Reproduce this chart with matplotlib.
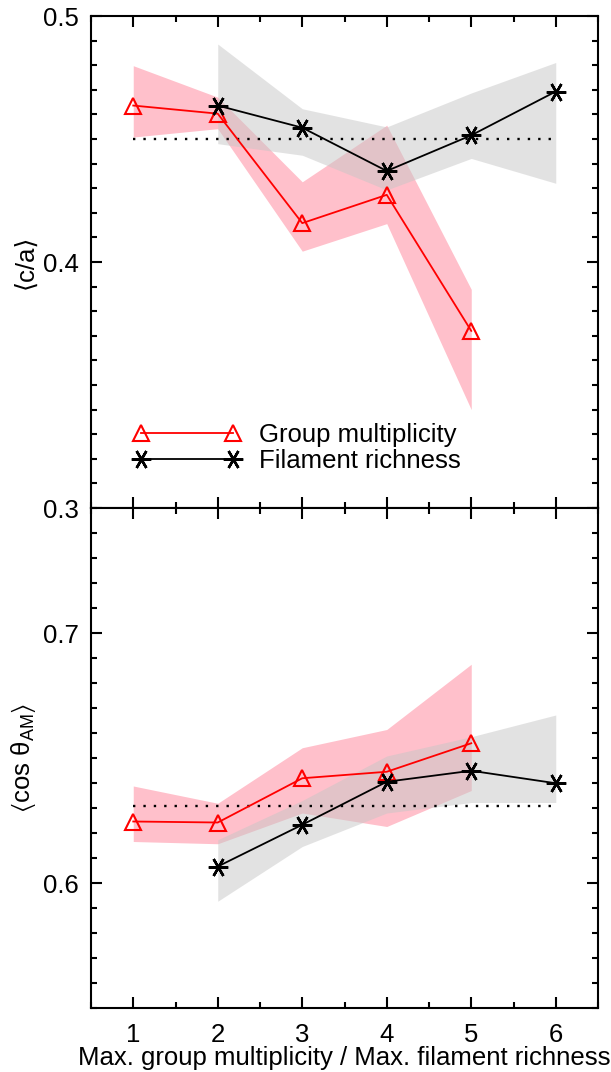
import matplotlib
matplotlib.use("Agg")
import matplotlib.pyplot as plt
from matplotlib.ticker import MultipleLocator, FixedLocator

plt.rcParams['font.family'] = ['Liberation Sans', 'DejaVu Sans']
plt.rcParams['mathtext.fontset'] = 'custom'
plt.rcParams['mathtext.rm'] = 'Liberation Sans'
plt.rcParams['mathtext.it'] = 'Liberation Sans:italic'
plt.rcParams['mathtext.fallback'] = 'stixsans'

# ---- data ----
x_group = [1, 2, 3, 4, 5]
x_fil = [2, 3, 4, 5, 6]

ca_group = [0.4636, 0.4603, 0.4158, 0.4273, 0.3720]
ca_group_lo = [0.4508, 0.4542, 0.4044, 0.4156, 0.3400]
ca_group_hi = [0.4798, 0.4670, 0.4326, 0.4556, 0.3889]
ca_fil = [0.4636, 0.4546, 0.4370, 0.4515, 0.4693]
ca_fil_lo = [0.4481, 0.4434, 0.4293, 0.4421, 0.4320]
ca_fil_hi = [0.4886, 0.4623, 0.4549, 0.4687, 0.4811]
ca_ref = 0.450

cos_group = [0.6246, 0.6242, 0.6419, 0.6445, 0.6559]
cos_group_lo = [0.6166, 0.6157, 0.6280, 0.6226, 0.6370]
cos_group_hi = [0.6388, 0.6319, 0.6541, 0.6614, 0.6875]
cos_fil = [0.6066, 0.6233, 0.6405, 0.6449, 0.6399]
cos_fil_lo = [0.5927, 0.6146, 0.6280, 0.6322, 0.6322]
cos_fil_hi = [0.6173, 0.6330, 0.6508, 0.6585, 0.6672]
cos_ref = 0.631

ref_x = [1, 6]
xticks = [1, 2, 3, 4, 5, 6]
labels = ['Group multiplicity', 'Filament richness']

FS = 18.5
W, H, DPI = 611, 1072, 100
fig = plt.figure(figsize=(W / DPI, H / DPI), dpi=DPI)

left, right = 91 / W, 598 / W
ytop, ymid, ybot = 1 - 16 / H, 1 - 508 / H, 1 - 1008 / H
ax1 = fig.add_axes([left, ymid, right - left, ytop - ymid])
ax2 = fig.add_axes([left, ybot, right - left, ymid - ybot])

pink = '#FFC0CB'
grey_c = '#c6c6c6'
ast = (6, 2, 90)


def panel(ax, yg, glo, ghi, yf, flo, fhi, ref):
    ax.fill_between(x_group, glo, ghi, color=pink, lw=0, zorder=1)
    ax.fill_between(x_fil, flo, fhi, color=grey_c, alpha=0.5, lw=0, zorder=2)
    ax.plot(ref_x, [ref, ref], color='black', lw=1.7, ls=(0, (1, 3.4)), zorder=3)
    ax.plot(x_group, yg, color='red', lw=1.3, marker='^', ms=12, mfc='none',
            mec='red', mew=1.5, zorder=4, label=labels[0])
    ax.plot(x_fil, yf, color='black', lw=1.3, marker=ast, ms=14, mew=1.8,
            zorder=5, label=labels[1])
    ax.set_xlim(0.5, 6.5)
    ax.xaxis.set_major_locator(FixedLocator(xticks))
    ax.xaxis.set_minor_locator(MultipleLocator(0.5))
    ax.yaxis.set_minor_locator(MultipleLocator(0.01))
    ax.tick_params(which='both', direction='in', top=True, right=True,
                   width=1.5, labelsize=FS, pad=9)
    ax.tick_params(which='major', length=8)
    ax.tick_params(which='minor', length=4.5)
    for s in ax.spines.values():
        s.set_linewidth(1.5)


panel(ax1, ca_group, ca_group_lo, ca_group_hi, ca_fil, ca_fil_lo, ca_fil_hi, ca_ref)
panel(ax2, cos_group, cos_group_lo, cos_group_hi, cos_fil, cos_fil_lo, cos_fil_hi, cos_ref)

ax1.set_ylim(0.3, 0.5)
ax1.yaxis.set_major_locator(FixedLocator([0.3, 0.4, 0.5]))
ax1.yaxis.set_major_formatter(plt.FuncFormatter(lambda v, p: f'{v:.1f}'))
ax1.tick_params(labelbottom=False)

ax2.set_ylim(0.55, 0.75)
ax2.yaxis.set_major_locator(FixedLocator([0.6, 0.7]))
ax2.yaxis.set_major_formatter(plt.FuncFormatter(lambda v, p: f'{v:.1f}'))
ax2.tick_params(axis='x', pad=11)

ax1.set_ylabel('\u27e8c/a\u27e9', fontsize=FS)
ax1.yaxis.set_label_coords(-0.105, 0.5)
ax2.set_ylabel('$\u27e8\\mathrm{cos}\\ \\mathrm{\u03b8}_{\\mathrm{AM}}\u27e9$', fontsize=FS)
ax2.yaxis.set_label_coords(-0.105, 0.5)
ax2.set_xlabel('Max. group multiplicity / Max. filament richness', fontsize=FS,
               labelpad=-1)

ax1.legend(loc='upper left', bbox_to_anchor=(0.083, 0.172), frameon=False,
           fontsize=FS, numpoints=2, handlelength=4.2, handletextpad=0.7,
           labelspacing=0.08, borderpad=0, borderaxespad=0)

fig.savefig('out.png', dpi=DPI)
